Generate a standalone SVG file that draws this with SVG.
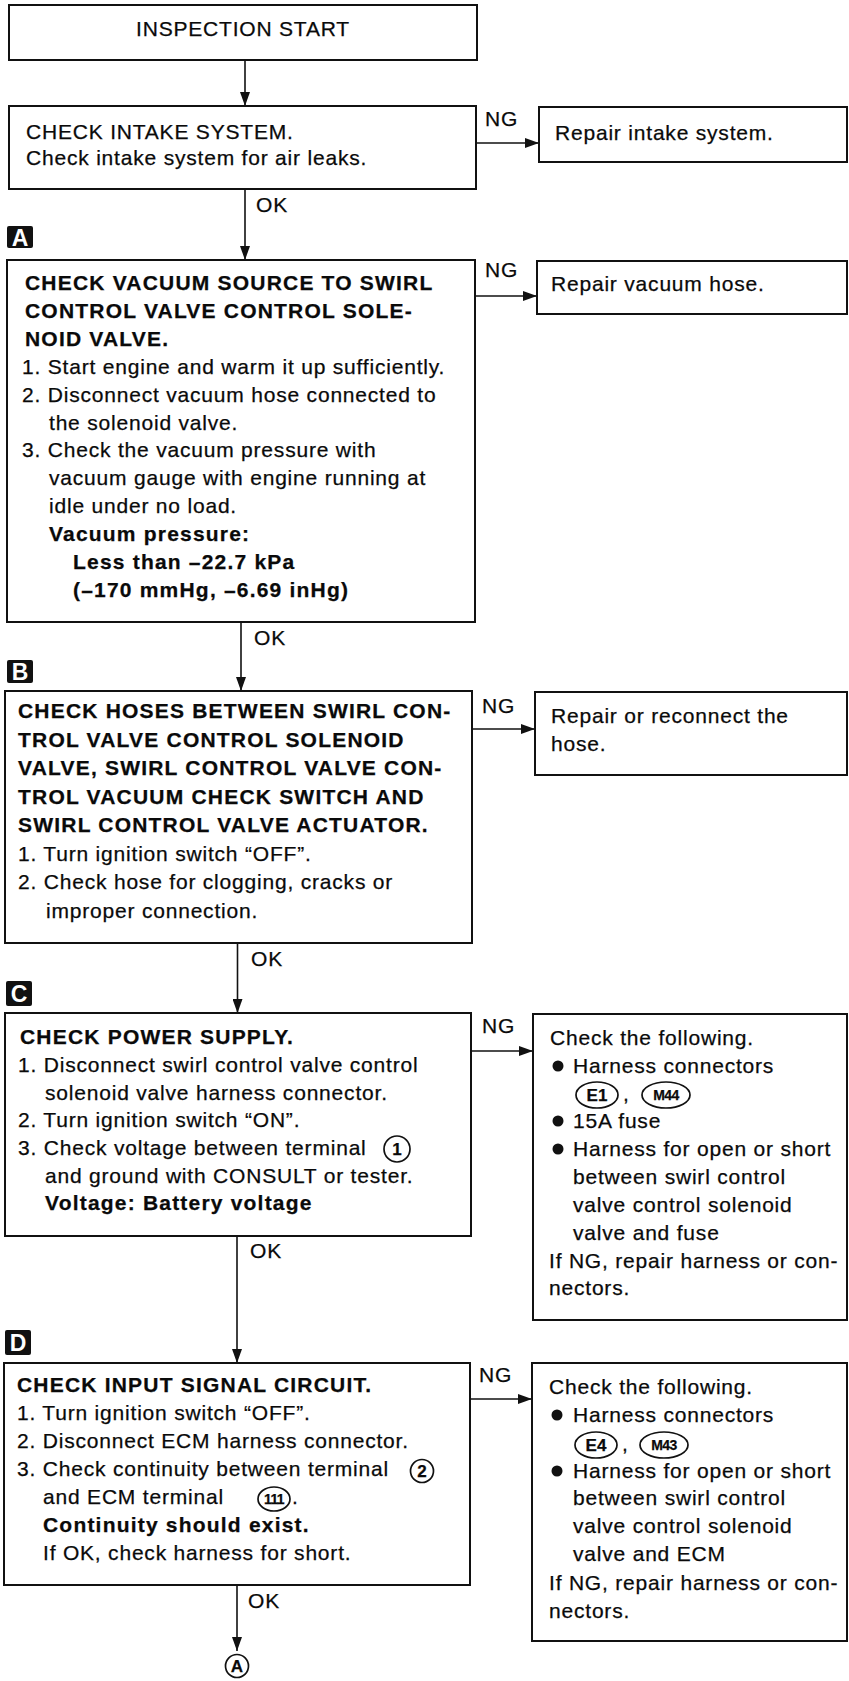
<svg xmlns="http://www.w3.org/2000/svg" width="849" height="1681" viewBox="0 0 849 1681">
<defs>
<style>
text{font-family:"Liberation Sans",Arial,Helvetica,sans-serif;font-size:21px;fill:#0a0a0a;letter-spacing:0.8px;stroke:#0a0a0a;stroke-width:0.25px}
.b{font-weight:bold;letter-spacing:1.2px}
.box{fill:#fff;stroke:#111;stroke-width:2}
.conn{stroke:#111;stroke-width:1.6;fill:none}
.tag{fill:#111}
.tagt{fill:#fff;stroke:none;font-weight:bold;font-size:23px;text-anchor:middle;letter-spacing:0}
.ring{fill:#fff;stroke:#111;stroke-width:1.7}
.rt{font-weight:bold;font-size:17px;text-anchor:middle;letter-spacing:0}
.rs{font-weight:bold;font-size:14px;text-anchor:middle;letter-spacing:-0.6px}
.dot{fill:#111}
</style>
<marker id="ah" viewBox="0 0 14 10" refX="14" refY="5" markerWidth="14" markerHeight="10" markerUnits="userSpaceOnUse" orient="auto"><path d="M0,0 L14,5 L0,10 z" fill="#111"/></marker>
</defs>
<rect width="849" height="1681" fill="#fff"/>

<g id="connectors">
<path class="conn" d="M245,60 V106" marker-end="url(#ah)"/>
<path class="conn" d="M245,189 V260" marker-end="url(#ah)"/>
<path class="conn" d="M241,622 V691" marker-end="url(#ah)"/>
<path class="conn" d="M237.5,943 V1013" marker-end="url(#ah)"/>
<path class="conn" d="M237,1236 V1363" marker-end="url(#ah)"/>
<path class="conn" d="M237,1585 V1651" marker-end="url(#ah)"/>
<path class="conn" d="M476,143 H539" marker-end="url(#ah)"/>
<path class="conn" d="M475,296 H537" marker-end="url(#ah)"/>
<path class="conn" d="M472,729 H535" marker-end="url(#ah)"/>
<path class="conn" d="M471,1051 H533" marker-end="url(#ah)"/>
<path class="conn" d="M470,1399 H532" marker-end="url(#ah)"/>
<text x="256" y="212">OK</text>
<text x="254" y="645">OK</text>
<text x="251" y="966">OK</text>
<text x="250" y="1258">OK</text>
<text x="248" y="1608">OK</text>
<text x="485" y="126">NG</text>
<text x="485" y="277">NG</text>
<text x="482" y="713">NG</text>
<text x="482" y="1033">NG</text>
<text x="479" y="1382">NG</text>
</g>

<g id="node-start">
<rect class="box" x="9" y="5" width="468" height="55"/>
<text x="243" y="36" text-anchor="middle">INSPECTION START</text>
</g>

<g id="node-intake">
<rect class="box" x="9" y="106" width="467" height="83"/>
<text x="26" y="139">CHECK INTAKE SYSTEM.</text>
<text x="26" y="165">Check intake system for air leaks.</text>
</g>

<g id="node-repair-intake">
<rect class="box" x="539" y="107" width="308" height="55"/>
<text x="555" y="140">Repair intake system.</text>
</g>

<g id="tag-a">
<rect class="tag" x="7" y="226" width="26" height="22" rx="2"/>
<text class="tagt" x="20" y="246">A</text>
</g>

<g id="node-a">
<rect class="box" x="7" y="260" width="468" height="362"/>
<text class="b" x="25" y="290">CHECK VACUUM SOURCE TO SWIRL</text>
<text class="b" x="25" y="318">CONTROL VALVE CONTROL SOLE-</text>
<text class="b" x="25" y="346">NOID VALVE.</text>
<text x="22" y="374">1. Start engine and warm it up sufficiently.</text>
<text x="22" y="402">2. Disconnect vacuum hose connected to</text>
<text x="49" y="430">the solenoid valve.</text>
<text x="22" y="457">3. Check the vacuum pressure with</text>
<text x="49" y="485">vacuum gauge with engine running at</text>
<text x="49" y="513">idle under no load.</text>
<text class="b" x="49" y="541">Vacuum pressure:</text>
<text class="b" x="73" y="569">Less than –22.7 kPa</text>
<text class="b" x="73" y="597">(–170 mmHg, –6.69 inHg)</text>
</g>

<g id="node-repair-vacuum">
<rect class="box" x="537" y="261" width="310" height="53"/>
<text x="551" y="291">Repair vacuum hose.</text>
</g>

<g id="tag-b">
<rect class="tag" x="7" y="660" width="26" height="23" rx="2"/>
<text class="tagt" x="20" y="680">B</text>
</g>

<g id="node-b">
<rect class="box" x="5" y="691" width="467" height="252"/>
<text class="b" x="18" y="718">CHECK HOSES BETWEEN SWIRL CON-</text>
<text class="b" x="18" y="747">TROL VALVE CONTROL SOLENOID</text>
<text class="b" x="18" y="775">VALVE, SWIRL CONTROL VALVE CON-</text>
<text class="b" x="18" y="804">TROL VACUUM CHECK SWITCH AND</text>
<text class="b" x="18" y="832">SWIRL CONTROL VALVE ACTUATOR.</text>
<text x="18" y="861">1. Turn ignition switch “OFF”.</text>
<text x="18" y="889">2. Check hose for clogging, cracks or</text>
<text x="46" y="918">improper connection.</text>
</g>

<g id="node-repair-hose">
<rect class="box" x="535" y="692" width="312" height="83"/>
<text x="551" y="723">Repair or reconnect the</text>
<text x="551" y="751">hose.</text>
</g>

<g id="tag-c">
<rect class="tag" x="6" y="981" width="26" height="25" rx="2"/>
<text class="tagt" x="19" y="1002">C</text>
</g>

<g id="node-c">
<rect class="box" x="5" y="1013" width="466" height="223"/>
<text class="b" x="20" y="1044">CHECK POWER SUPPLY.</text>
<text x="18" y="1072">1. Disconnect swirl control valve control</text>
<text x="45" y="1100">solenoid valve harness connector.</text>
<text x="18" y="1127">2. Turn ignition switch “ON”.</text>
<text x="18" y="1155">3. Check voltage between terminal</text>
<circle class="ring" cx="397" cy="1149" r="13"/>
<text class="rt" x="397" y="1155">1</text>
<text x="45" y="1183">and ground with CONSULT or tester.</text>
<text class="b" x="45" y="1210">Voltage: Battery voltage</text>
</g>

<g id="node-c-ng">
<rect class="box" x="533" y="1014" width="314" height="306"/>
<text x="550" y="1045">Check the following.</text>
<circle class="dot" cx="558" cy="1066" r="5.5"/>
<text x="573" y="1073">Harness connectors</text>
<ellipse class="ring" cx="597" cy="1095" rx="21" ry="13"/>
<text class="rt" x="597" y="1101">E1</text>
<text x="623" y="1101">,</text>
<ellipse class="ring" cx="666" cy="1095" rx="24" ry="13"/>
<text class="rs" x="666" y="1100">M44</text>
<circle class="dot" cx="558" cy="1121" r="5.5"/>
<text x="573" y="1128">15A fuse</text>
<circle class="dot" cx="558" cy="1149" r="5.5"/>
<text x="573" y="1156">Harness for open or short</text>
<text x="573" y="1184">between swirl control</text>
<text x="573" y="1212">valve control solenoid</text>
<text x="573" y="1240">valve and fuse</text>
<text x="549" y="1268">If NG, repair harness or con-</text>
<text x="549" y="1295">nectors.</text>
</g>

<g id="tag-d">
<rect class="tag" x="5" y="1330" width="26" height="25" rx="2"/>
<text class="tagt" x="18" y="1351">D</text>
</g>

<g id="node-d">
<rect class="box" x="4" y="1363" width="466" height="222"/>
<text class="b" x="17" y="1392">CHECK INPUT SIGNAL CIRCUIT.</text>
<text x="17" y="1420">1. Turn ignition switch “OFF”.</text>
<text x="17" y="1448">2. Disconnect ECM harness connector.</text>
<text x="17" y="1476">3. Check continuity between terminal</text>
<circle class="ring" cx="422" cy="1471" r="11.5"/>
<text class="rt" x="422" y="1477">2</text>
<text x="43" y="1504">and ECM terminal</text>
<ellipse class="ring" cx="274" cy="1499" rx="16" ry="12"/>
<text class="rs" x="274" y="1504">111</text>
<text x="292" y="1504">.</text>
<text class="b" x="43" y="1532">Continuity should exist.</text>
<text x="43" y="1560">If OK, check harness for short.</text>
</g>

<g id="node-d-ng">
<rect class="box" x="532" y="1363" width="315" height="278"/>
<text x="549" y="1394">Check the following.</text>
<circle class="dot" cx="557" cy="1415" r="5.5"/>
<text x="573" y="1422">Harness connectors</text>
<ellipse class="ring" cx="596" cy="1445" rx="21" ry="13"/>
<text class="rt" x="596" y="1451">E4</text>
<text x="622" y="1451">,</text>
<ellipse class="ring" cx="664" cy="1445" rx="24" ry="13"/>
<text class="rs" x="664" y="1450">M43</text>
<circle class="dot" cx="557" cy="1471" r="5.5"/>
<text x="573" y="1478">Harness for open or short</text>
<text x="573" y="1505">between swirl control</text>
<text x="573" y="1533">valve control solenoid</text>
<text x="573" y="1561">valve and ECM</text>
<text x="549" y="1590">If NG, repair harness or con-</text>
<text x="549" y="1618">nectors.</text>
</g>

<g id="node-goto-a">
<circle class="ring" cx="237" cy="1666" r="11.5"/>
<text class="rt" x="237" y="1672">A</text>
</g>
</svg>
